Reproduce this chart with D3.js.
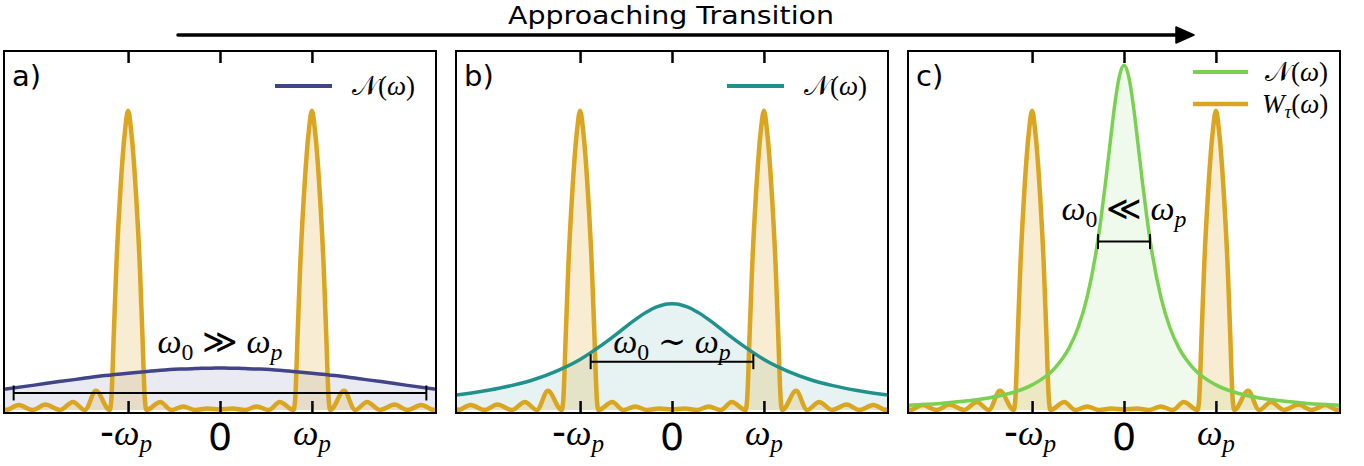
<!DOCTYPE html>
<html><head><meta charset="utf-8">
<script src="https://cdn.jsdelivr.net/npm/d3@7"></script>
<style>html,body{margin:0;padding:0;background:#fff;} svg{display:block;}</style>
</head><body>
<svg id="chart" width="1364" height="466"></svg>
<script>
// ---------------- data ----------------
const panelLetters = ["a)", "b)", "c)"];
const titleText = "Approaching Transition";
const xLimits = [-2.35, 2.35];            // frequency in units of omega_p
const yLimits = [-0.01, 1.2];
const tickValues = [-1, 0, 1];

// noise spectra N(omega) on a common frequency grid
const freq   = [-2.35,-2.0,-1.75,-1.5,-1.25,-1.0,-0.75,-0.6,-0.5,-0.4,-0.3,-0.25,-0.2,-0.15,-0.1,-0.05,0,
                 0.05,0.1,0.15,0.2,0.25,0.3,0.4,0.5,0.6,0.75,1.0,1.25,1.5,1.75,2.0,2.35];
const noiseA = [0.069,0.084,0.095,0.105,0.115,0.123,0.130,0.134,0.136,0.137,0.138,0.139,0.1396,0.1398,0.1399,0.14,0.14,
                0.14,0.1399,0.1398,0.1396,0.139,0.138,0.137,0.136,0.134,0.130,0.123,0.115,0.105,0.095,0.084,0.069];
const noiseB = [0.050,0.066,0.0815,0.102,0.131,0.169,0.220,0.2545,0.279,0.302,0.323,0.332,0.340,0.3465,0.351,0.354,0.355,
                0.354,0.351,0.3465,0.340,0.332,0.323,0.302,0.279,0.2545,0.220,0.169,0.131,0.102,0.0815,0.066,0.050];
const noiseC = [0.016,0.022,0.029,0.039,0.055,0.084,0.141,0.206,0.275,0.379,0.536,0.641,0.763,0.895,1.022,1.116,1.152,
                1.116,1.022,0.895,0.763,0.641,0.536,0.379,0.275,0.206,0.141,0.084,0.055,0.039,0.029,0.022,0.016];

// filter function W_tau(omega)
const filterFreq = [-2.35,-2.33,-2.19,-2.04,-1.90,-1.74,-1.60,-1.47,-1.35,-1.20,-1.183,-1.155,-1.128,-1.09,-1.036,-1.0,
                    -0.964,-0.91,-0.872,-0.845,-0.817,-0.80,-0.65,-0.53,-0.40,-0.27,-0.14,0,
                    0.14,0.27,0.40,0.53,0.65,0.80,0.817,0.845,0.872,0.91,0.964,1.0,
                    1.036,1.09,1.128,1.155,1.183,1.20,1.35,1.47,1.60,1.74,1.90,2.04,2.19,2.33,2.35];
const filterW    = [0.006,0,0.017,0,0.018,0,0.027,0,0.064,0,0.033,0.258,0.478,0.702,0.926,1.0,
                    0.926,0.702,0.478,0.258,0.033,0,0.027,0,0.012,0,0.005,0.002,
                    0.005,0,0.012,0,0.027,0,0.033,0.258,0.478,0.702,0.926,1.0,
                    0.926,0.702,0.478,0.258,0.033,0,0.064,0,0.027,0,0.018,0,0.017,0,0.006];

// width markers (half width in omega_p, level) and regime labels
const barHalfWidth = [2.245, 0.885, 0.283];
const barLevel     = [0.057, 0.1615, 0.563];
const relationSym  = ["\u226B", "\u223C", "\u226A"];
const labelLevel   = [0.19, 0.19, 0.635];
const noiseColors  = ["#414487", "#21918c", "#7ad151"];
const filterColor  = "#daa520";

// ---------------- drawing ----------------
const svg = d3.select("#chart");
const panelW = 432, panelGap = 20, panelLeft = 4, panelTop = 51, panelBottom = 413;
const y = d3.scaleLinear().domain(yLimits).range([panelBottom, panelTop]);
const noiseSeries = [noiseA, noiseB, noiseC];
const serif = "'Liberation Serif','DejaVu Serif',serif";
const sans = "'DejaVu Sans','Liberation Sans',sans-serif";

function addMath(parent, x, yy, parts, size, anchor) {
  const t = parent.append("text").attr("x", x).attr("y", yy)
    .attr("text-anchor", anchor || "middle").attr("font-size", size).attr("fill", "#000");
  let shift = 0;
  parts.forEach(p => {
    const ts = t.append("tspan").text(p.t)
      .attr("font-family", p.sans ? sans : serif);
    if (p.it) ts.attr("font-style", "italic");
    const target = p.sub ? size * 0.2 : 0;
    if (target !== shift) { ts.attr("dy", target - shift); shift = target; }
    ts.attr("font-size", p.sub ? size * 0.7 : (p.scale ? size * p.scale : size));
  });
  return t;
}

// title + arrow
svg.append("text").attr("x", 671).attr("y", 24).attr("text-anchor", "middle")
  .attr("font-family", sans).attr("font-size", 25)
  .attr("textLength", 326).attr("lengthAdjust", "spacingAndGlyphs").text(titleText);
svg.append("line").attr("x1", 178).attr("x2", 1180).attr("y1", 35).attr("y2", 35)
  .attr("stroke", "#000").attr("stroke-width", 3.5).attr("stroke-linecap", "round");
svg.append("path").attr("d", "M1176,27 L1194,35 L1176,43 Z").attr("fill", "#000")
  .attr("stroke", "#000").attr("stroke-width", 1.5).attr("stroke-linejoin", "round");

panelLetters.forEach((letter, i) => {
  const left = panelLeft + i * (panelW + panelGap);
  const x = d3.scaleLinear().domain(xLimits).range([left, left + panelW]);
  const g = svg.append("g");
  const clipId = "clip" + i;
  svg.append("defs").append("clipPath").attr("id", clipId)
    .append("rect").attr("x", left).attr("y", panelTop).attr("width", panelW).attr("height", panelBottom - panelTop);
  const plot = g.append("g").attr("clip-path", `url(#${clipId})`);

  const nPts = freq.map((f, j) => [f, noiseSeries[i][j]]);
  const wPts = filterFreq.map((f, j) => [f, filterW[j]]);
  const line = d3.line().x(d => x(d[0])).y(d => y(d[1])).curve(d3.curveMonotoneX);
  const area = d3.area().x(d => x(d[0])).y0(y(0)).y1(d => y(d[1])).curve(d3.curveMonotoneX);

  plot.append("path").datum(nPts).attr("d", area).attr("fill", noiseColors[i]).attr("fill-opacity", 0.11);
  plot.append("path").datum(wPts).attr("d", area).attr("fill", filterColor).attr("fill-opacity", 0.2);
  plot.append("path").datum(wPts).attr("d", line).attr("fill", "none")
    .attr("stroke", filterColor).attr("stroke-width", 4.5).attr("stroke-linejoin", "round");
  plot.append("path").datum(nPts).attr("d", line).attr("fill", "none")
    .attr("stroke", noiseColors[i]).attr("stroke-width", 3.5);

  // width marker
  const by = y(barLevel[i]);
  const bx1 = x(-barHalfWidth[i]), bx2 = x(barHalfWidth[i]);
  const bar = g.append("g").attr("stroke", "#000").attr("stroke-width", 2);
  bar.append("line").attr("x1", bx1).attr("x2", bx2).attr("y1", by).attr("y2", by);
  bar.append("line").attr("x1", bx1).attr("x2", bx1).attr("y1", by - 7.5).attr("y2", by + 7.5);
  bar.append("line").attr("x1", bx2).attr("x2", bx2).attr("y1", by - 7.5).attr("y2", by + 7.5);

  addMath(g, x(0), y(labelLevel[i]), [
    {t: "\u03C9", it: true}, {t: "0", sub: true},
    {t: " " + relationSym[i] + " "}, {t: "\u03C9", it: true}, {t: "p", it: true, sub: true}
  ], 34, "middle");

  // axes (inward ticks, top and bottom)
  const axB = g.append("g").attr("transform", `translate(0,${panelBottom})`)
    .call(d3.axisBottom(x).tickValues(tickValues).tickSize(-12).tickFormat(""));
  const axT = g.append("g").attr("transform", `translate(0,${panelTop})`)
    .call(d3.axisTop(x).tickValues(tickValues).tickSize(-12).tickFormat(""));
  [axB, axT].forEach(a => {
    a.select(".domain").remove();
    a.selectAll(".tick line").attr("stroke", "#000").attr("stroke-width", 2.5);
  });

  // frame
  g.append("rect").attr("x", left).attr("y", panelTop).attr("width", panelW)
    .attr("height", panelBottom - panelTop).attr("fill", "none").attr("stroke", "#000").attr("stroke-width", 2);

  // tick labels
  addMath(g, x(-1) - 2, 445, [{t: "-", sans: true, scale: 1.08}, {t: "\u03C9", it: true}, {t: "p", it: true, sub: true}], 36, "middle");
  g.append("text").attr("x", x(0)).attr("y", 449.5).attr("text-anchor", "middle")
    .attr("font-family", sans).attr("font-size", 38).text("0");
  addMath(g, x(1), 445, [{t: "\u03C9", it: true}, {t: "p", it: true, sub: true}], 36, "middle");

  // panel letter
  g.append("text").attr("x", left + 8).attr("y", 86).attr("font-family", sans)
    .attr("font-size", 29).text(letter);

  // legend
  if (i < 2) {
    g.append("line").attr("x1", left + 271).attr("x2", left + 328).attr("y1", 86).attr("y2", 86)
      .attr("stroke", noiseColors[i]).attr("stroke-width", 4);
    addMath(g, left + 348, 95, [{t: "\uD835\uDCA9"}, {t: "("}, {t: "\u03C9", it: true}, {t: ")"}], 27, "start");
  } else {
    g.append("line").attr("x1", left + 285).attr("x2", left + 340).attr("y1", 72).attr("y2", 72)
      .attr("stroke", noiseColors[i]).attr("stroke-width", 4);
    addMath(g, left + 357, 81, [{t: "\uD835\uDCA9"}, {t: "("}, {t: "\u03C9", it: true}, {t: ")"}], 27, "start");
    g.append("line").attr("x1", left + 285).attr("x2", left + 340).attr("y1", 104).attr("y2", 104)
      .attr("stroke", filterColor).attr("stroke-width", 4.5);
    addMath(g, left + 354, 113, [{t: "W", it: true}, {t: "\u03C4", it: true, sub: true}, {t: "("}, {t: "\u03C9", it: true}, {t: ")"}], 27, "start");
  }
});
</script>
</body></html>
